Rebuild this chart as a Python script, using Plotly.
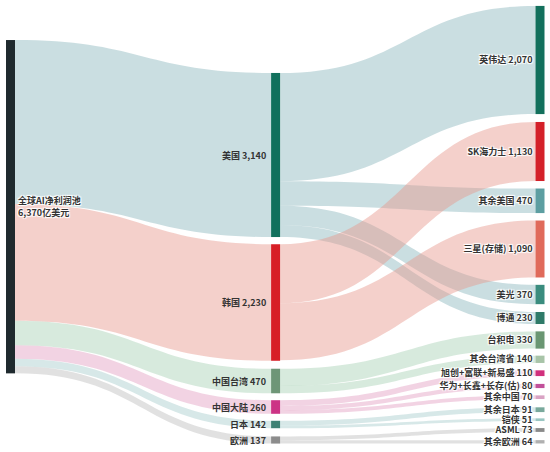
import plotly.graph_objects as go

# nodes
labels = ["全球AI净利润池<br>6,370亿美元",
          "美国 3,140", "韩国 2,230", "中国台湾 470", "中国大陆 260", "日本 142", "欧洲 137",
          "英伟达 2,070", "SK海力士 1,130", "其余美国 470", "三星(存储) 1,090", "美光 370", "博通 230",
          "台积电 330", "其余台湾省 140", "旭创+富联+新易盛 110", "华为+长鑫+长存(估) 80", "其余中国 70",
          "其余日本 91", "铠侠 51", "ASML 73", "其余欧洲 64"]

node_colors = ["#1f2a2e",
               "#11705c", "#d71f26", "#6e9677", "#cc3385", "#3f8275", "#8c8c8c",
               "#13705c", "#d42029", "#5c9ea1", "#e06a5a", "#3a8c7e", "#2f7a68",
               "#6a9672", "#a8c4a8", "#d1307c", "#c2509a", "#d9a3c4",
               "#79a99c", "#99c6c2", "#8a8a8a", "#b0b0b0"]

# links: source, target, value
sources = [0, 0, 0, 0, 0, 0,
           1, 1, 1, 1,
           2, 2,
           3, 3,
           4, 4, 4,
           5, 5,
           6, 6]
targets = [1, 2, 3, 4, 5, 6,
           7, 9, 11, 12,
           8, 10,
           13, 14,
           15, 16, 17,
           18, 19,
           20, 21]
values = [3140, 2230, 470, 260, 142, 137,
          2070, 470, 370, 230,
          1130, 1090,
          330, 140,
          110, 80, 70,
          91, 51,
          73, 64]

# link colour per country
country_link_colors = {
    1: "rgba(150,190,195,0.5)",
    2: "rgba(230,150,140,0.45)",
    3: "rgba(160,205,175,0.42)",
    4: "rgba(215,120,170,0.33)",
    5: "rgba(140,190,190,0.35)",
    6: "rgba(180,180,180,0.4)",
}

link_colors = []
for s, t in zip(sources, targets):
    key = t if s == 0 else s
    link_colors.append(country_link_colors[key])

# node positions (px in the 550x452 page), converted below
W, H = 550, 452
mt, mb = 5, 5
thick = 9
px_x = [10.5] + [275.6] * 6 + [540] * 15
px_y = [206.7,
        155.0, 302.5, 381.0, 407.0, 424.5, 440.0,
        60.0, 151.5, 200.8, 249.0, 294.5, 318.0,
        340.0, 359.3, 373.2, 386.0, 397.2,
        409.7, 419.7, 430.0, 441.8]

node_x = [x / W for x in px_x]
node_y = [(y - mt) / (H - mt - mb) for y in px_y]

# middle column labels go on the left of their bars, drawn as annotations
mid = range(1, 7)
node_labels = [("" if i in mid else lab) for i, lab in enumerate(labels)]

font = dict(family="Noto Sans CJK SC", size=9, color="#333333", weight="bold")

fig = go.Figure(go.Sankey(
    arrangement="fixed",
    node=dict(
        label=node_labels,
        color=node_colors,
        x=node_x,
        y=node_y,
        pad=7.8,
        thickness=thick,
        line=dict(width=0),
        hoverinfo="none",
    ),
    link=dict(
        source=sources,
        target=targets,
        value=values,
        color=link_colors,
        hoverinfo="none",
    ),
    textfont=font,
))

for i in mid:
    fig.add_annotation(
        text=labels[i],
        xref="paper", yref="paper",
        x=(px_x[i] - thick / 2 - 3) / W,
        y=1 - node_y[i],
        xanchor="right", yanchor="middle",
        showarrow=False,
        font=font,
    )

fig.update_layout(
    width=W, height=H,
    margin=dict(l=0, r=0, t=mt, b=mb),
    paper_bgcolor="white",
    plot_bgcolor="white",
)

# page body has a default 8px margin; drop it so the chart sits at the corner
fig.write_html("out.html", config={"displayModeBar": False},
               post_script="document.body.style.margin='0';")
